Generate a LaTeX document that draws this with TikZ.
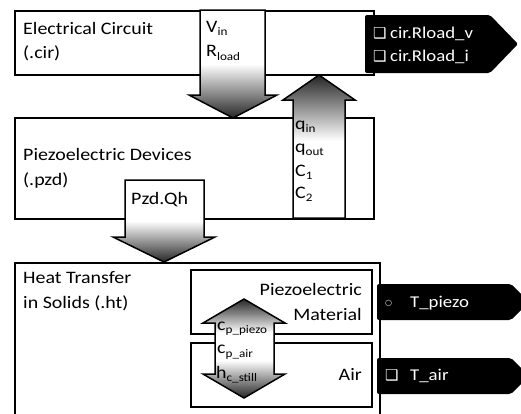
\documentclass[tikz,border=0pt]{standalone}
\usepackage{fontspec}
\setmainfont{Carlito}[FakeStretch=1.14]
\newfontfamily\symfont{DejaVu Sans}
\newcommand\sbs[1]{\raisebox{-3.8pt}{\fontsize{11.5}{12}\selectfont #1}}
\newcommand\mainsz{\fontsize{17.5}{21}\selectfont}
\newcommand\tagsz{\fontsize{16.5}{20}\selectfont}
\pgfdeclareverticalshading{shdown}{100bp}{color(0bp)=(black!85); color(25bp)=(black!85); color(50bp)=(white); color(100bp)=(white)}
\pgfdeclareverticalshading{shup}{100bp}{color(0bp)=(white); color(52bp)=(white); color(75bp)=(black!85); color(100bp)=(black!85)}
\pgfdeclareverticalshading{shboth}{100bp}{color(0bp)=(black!85); color(25bp)=(black!85); color(44bp)=(white); color(58bp)=(white); color(75bp)=(black!85); color(100bp)=(black!85)}
\begin{document}
\begin{tikzpicture}[x=1pt,y=-1pt,
  box/.style={draw, line width=1.6pt, inner sep=0pt, anchor=north west},
  lbl/.style={anchor=base west, inner sep=0pt, font=\mainsz},
  lblr/.style={anchor=base east, inner sep=0pt, font=\mainsz},
  tagtxt/.style={anchor=base west, inner sep=0pt, font=\tagsz, text=white},
  tagsym/.style={anchor=base west, inner sep=0pt, text=white},
  tag/.style={fill=black, rounded corners=2pt},
  blockarrow/.style={draw, line width=1.5pt, line join=miter}]
\useasboundingbox (0,0) rectangle (521,413);
\clip (0,0) rectangle (521,413);
% boxes
\node[box, minimum width=359pt, minimum height=64pt] (cir) at (14,10) {};
\node[box, minimum width=359pt, minimum height=101pt] (pzd) at (14,117) {};
\node[box, minimum width=365pt, minimum height=170pt] (ht) at (14,262) {};
\node[box, minimum width=181pt, minimum height=64pt] (pm) at (190,269) {};
\node[box, minimum width=181pt, minimum height=64pt] (air) at (190,342) {};
% block arrows
\path[blockarrow, shading=shdown] (200,10) -- (265,10) -- (265,95) -- (277,95) -- (233,118) -- (189,95) -- (200,95) -- cycle;
\path[blockarrow, shading=shup] (293,218) -- (293,100) -- (283,100) -- (319,75) -- (355,100) -- (345,100) -- (345,218) -- cycle;
\path[blockarrow, shading=shdown] (125,180) -- (204,180) -- (204,237) -- (215,237) -- (164,262) -- (113,237) -- (125,237) -- cycle;
\path[blockarrow, shading=shboth] (215,323) -- (203,323) -- (244,299) -- (285,323) -- (274,323) -- (274,374) -- (285,374) -- (244,398) -- (203,374) -- (215,374) -- cycle;
% output tags
\fill[tag] (365,15) -- (490,15) -- (518,44) -- (490,73) -- (365,73) -- cycle;
\fill[tag] (377,284) -- (511,284) -- (529,302) -- (511,320) -- (377,320) -- cycle;
\fill[tag] (377,358) -- (511,358) -- (529,376) -- (511,394) -- (377,394) -- cycle;
% labels
\node[lbl] (t1) at (23,34.5) {Electrical Circuit};
\node[lbl] (t2) at (23,58) {(.cir)};
\node[lbl] (vin) at (206,32) {V\sbs{in}};
\node[lbl] (rload) at (206,56.5) {R\sbs{load}};
\node[lbl] (qin) at (295,129) {q\sbs{in}};
\node[lbl] (qout) at (295,152) {q\sbs{out}};
\node[lbl] (c1) at (295,176) {C\sbs{1}};
\node[lbl] (c2) at (295,198) {C\sbs{2}};
\node[lbl] (t3) at (23,160) {Piezoelectric Devices};
\node[lbl] (t4) at (23,185) {(.pzd)};
\node[lbl] (qh) at (131,204) {Pzd.Qh};
\node[lbl] (t5) at (23,283.5) {Heat Transfer};
\node[lbl] (t6) at (23,308.5) {in Solids (.ht)};
\node[lblr] (t7) at (362,295) {Piezoelectric};
\node[lblr] (t8) at (362,320) {Material};
\node[lblr] (t9) at (362,380) {Air};
\node[lbl] (cp1) at (217,330) {c\sbs{p\_piezo}};
\node[lbl] (cp2) at (217,353.5) {c\sbs{p\_air}};
\node[lbl] (hc) at (216,378) {h\sbs{c\_still}};
% tag texts
\node[tagsym, font=\symfont\fontsize{15}{15}\selectfont] (s1) at (373,38.5) {❑};
\node[tagtxt] (o1) at (390,38.5) {cir.Rload\_v};
\node[tagsym, font=\symfont\fontsize{15}{15}\selectfont] (s2) at (373,61.5) {❑};
\node[tagtxt] (o2) at (390,61.5) {cir.Rload\_i};
\node[tagsym, font=\symfont\fontsize{8}{8}\selectfont] (s3) at (385,305) {○};
\node[tagtxt] (o3) at (410,307) {T\_piezo};
\node[tagsym, font=\symfont\fontsize{15}{15}\selectfont] (s4) at (385,380.5) {❑};
\node[tagtxt] (o4) at (410,380) {T\_air};
\end{tikzpicture}
\end{document}
